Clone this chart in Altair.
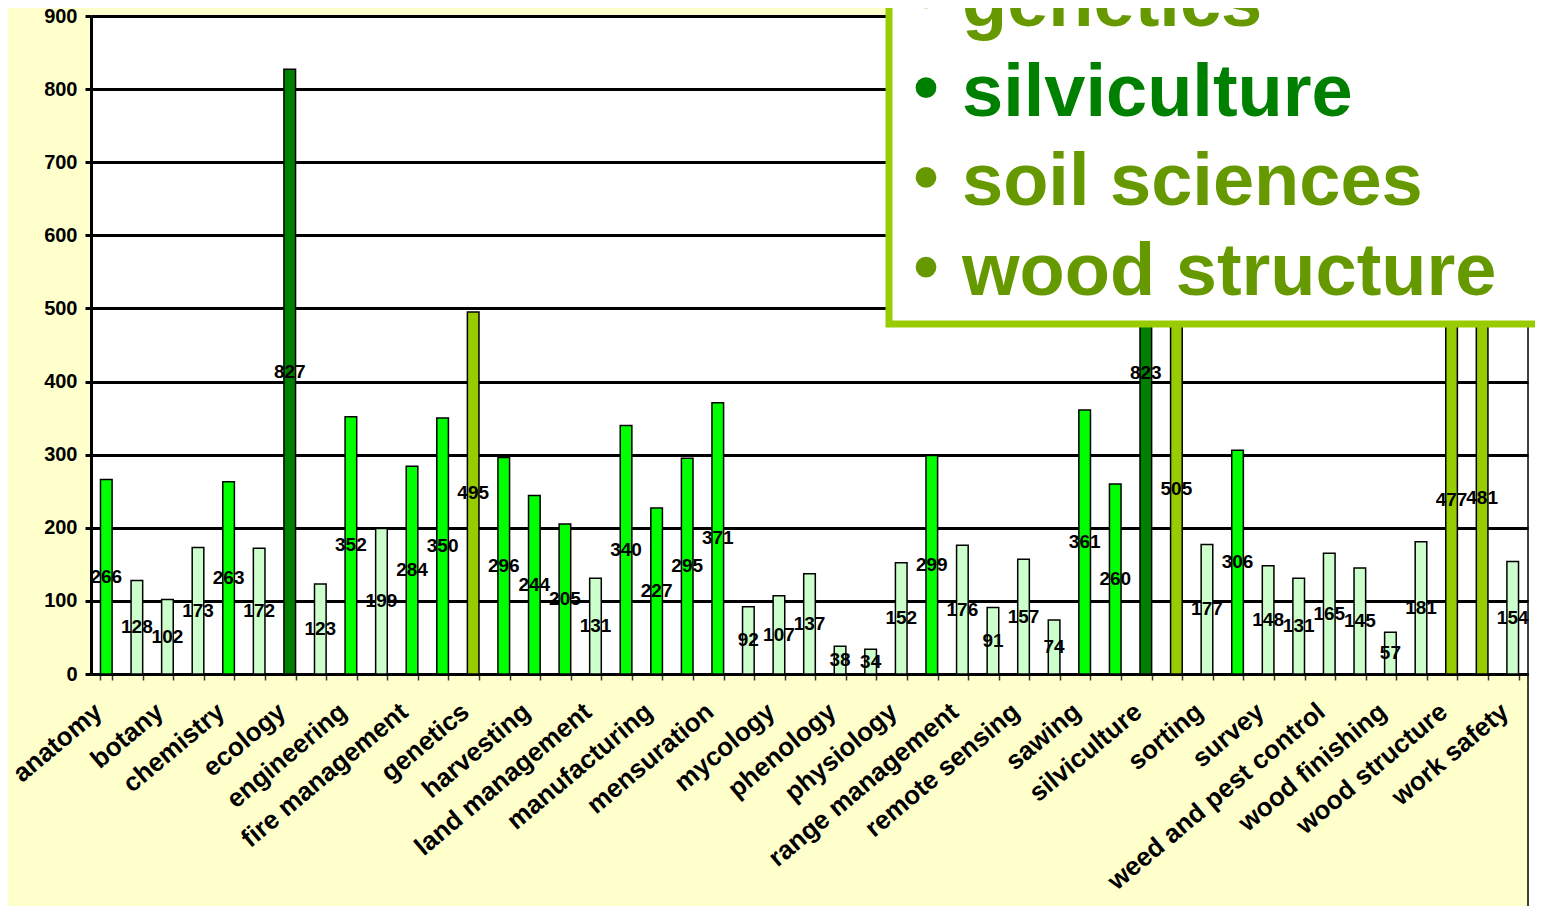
import json
import altair as alt
import pandas as pd

# ---- data ----
values = [266, 128, 102, 173, 263, 172, 827, 123, 352, 199, 284, 350, 495, 296,
          244, 205, 131, 340, 227, 295, 371, 92, 107, 137, 38, 34, 152, 299,
          176, 91, 157, 74, 361, 260, 823, 505, 177, 306, 148, 131, 165, 145,
          57, 181, 477, 481, 154]
kinds = ["bright", "light", "light", "light", "bright", "light", "dark", "light",
         "bright", "light", "bright", "bright", "olive", "bright", "bright", "bright",
         "light", "bright", "bright", "bright", "bright", "light", "light", "light",
         "light", "light", "light", "bright", "light", "light", "light", "light",
         "bright", "bright", "dark", "olive", "light", "bright", "light", "light",
         "light", "light", "light", "light", "olive", "olive", "light"]
shown_labels = ["anatomy", "botany", "chemistry", "ecology", "engineering",
                "fire management", "genetics", "harvesting", "land management",
                "manufacturing", "mensuration", "mycology", "phenology", "physiology",
                "range management", "remote sensing", "sawing", "silviculture",
                "sorting", "survey", "weed and pest control", "wood finishing",
                "wood structure", "work safety"]
kind_names = ["light", "bright", "dark", "olive"]
kind_colors = ["#CCFFCC", "#00FF00", "#008000", "#99CC00"]
y_ticks = [0, 100, 200, 300, 400, 500, 600, 700, 800, 900]
legend_items = ["genetics", "silviculture", "soil sciences", "wood structure"]
legend_colors = ["#669900", "#008000", "#669900", "#669900"]

FONT = "Liberation Sans"
W, H = 1437, 658

n = len(values)
axis_labels = [shown_labels[i // 2] if i % 2 == 0 else "" for i in range(n)]
df = pd.DataFrame({"idx": list(range(n)), "value": values, "kind": kinds})

one = pd.DataFrame({"k": [0]})

x_enc = alt.X("idx:O", sort=None,
              scale=alt.Scale(paddingInner=0.62, paddingOuter=0.31),
              axis=alt.Axis(title=None, tickBand="extent", tickSize=6,
                            tickColor="#333333", tickWidth=1.5,
                            domainColor="black", domainWidth=3,
                            labelExpr=json.dumps(axis_labels) + "[datum.value]",
                            labelAngle=-40, labelAlign="right", labelBaseline="middle",
                            labelFont=FONT, labelFontSize=26, labelFontWeight="bold",
                            labelColor="black", labelPadding=28, labelOffset=-8,
                            labelLimit=0, labelOverlap=False, grid=False))
y_enc = alt.Y("value:Q",
              scale=alt.Scale(domain=[0, 900], nice=False),
              axis=alt.Axis(title=None, values=y_ticks, tickSize=6, tickWidth=3,
                            tickColor="black", domainColor="black", domainWidth=3,
                            gridColor="black", gridWidth=3, gridOpacity=1,
                            labelFont=FONT, labelFontSize=20, labelFontWeight="bold",
                            labelColor="black", labelPadding=8))

bars = alt.Chart(df).mark_bar(stroke="black", strokeWidth=1.5).encode(
    x=x_enc, y=y_enc,
    color=alt.Color("kind:N", scale=alt.Scale(domain=kind_names, range=kind_colors),
                    legend=None),
)

texts = alt.Chart(df).transform_calculate(half="datum.value / 2").mark_text(
    font=FONT, fontSize=19, fontWeight="bold", color="black",
    align="center", baseline="middle",
).encode(x="idx:O", y="half:Q", text="value:Q")

right_strip = alt.Chart(one).mark_rect(color="white").encode(
    x=alt.value(W + 1), x2=alt.value(W + 60), y=alt.value(-10), y2=alt.value(H + 260))
right_line = alt.Chart(one).mark_rule(color="black", strokeWidth=1.5).encode(
    x=alt.value(W), y=alt.value(0), y2=alt.value(H + 250))

box = alt.Chart(one).mark_rect(fill="white", stroke="#99CC00", strokeWidth=7).encode(
    x=alt.value(798), x2=alt.value(1480), y=alt.value(-40), y2=alt.value(308))

legend_layers = []
for i, (item, col) in enumerate(zip(legend_items, legend_colors)):
    base = 10 + 89.7 * i
    legend_layers.append(
        alt.Chart(one).mark_point(shape="circle", filled=True, size=430, color=col,
                                  opacity=1).encode(
            x=alt.value(835), y=alt.value(base - 28)))
    legend_layers.append(
        alt.Chart(one).mark_text(text=item, font=FONT, fontSize=74, fontWeight="bold",
                                 color=col, align="left", baseline="alphabetic").encode(
            x=alt.value(871), y=alt.value(base)))

chart = alt.layer(bars, texts, right_strip, right_line, box, *legend_layers).properties(
    width=W, height=H,
    padding={"left": 83, "top": 8, "right": 7, "bottom": 232},
    autosize=alt.AutoSizeParams(type="none"),
    background="#FFFFCC",
).configure_view(fill="white", stroke=None)

chart.save("out.html", embed_options={"renderer": "svg", "actions": False})
